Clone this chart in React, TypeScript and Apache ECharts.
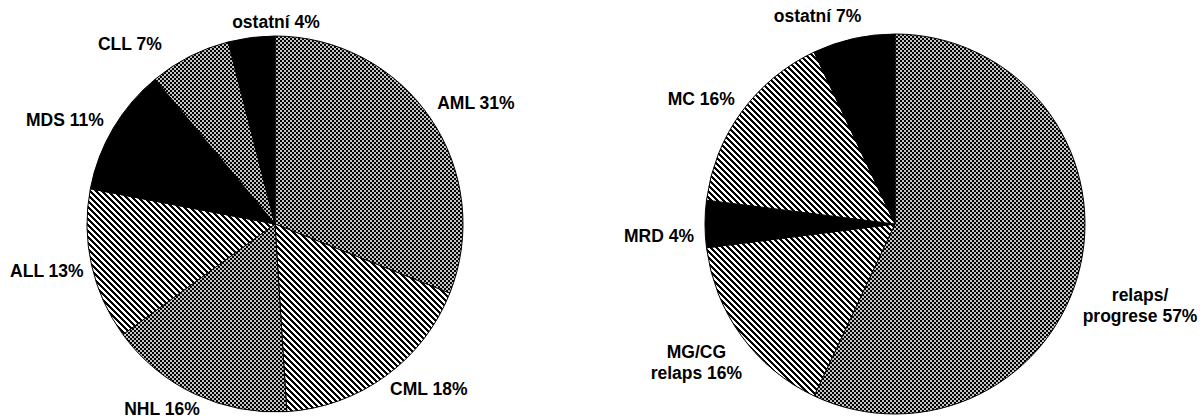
import React, { useEffect, useRef } from 'react';
import * as echarts from 'echarts';

// ---- data ----
const leftCategories = ['AML', 'CML', 'NHL', 'ALL', 'MDS', 'CLL', 'ostatní'];
const leftValues = [31, 18, 16, 13, 11, 7, 4];
const leftFills = ['checker', 'stripe', 'checker', 'stripe', 'black', 'checker', 'black'];

const rightCategories = ['relaps/\nprogrese', 'MG/CG\nrelaps', 'MRD', 'MC', 'ostatní'];
const rightValues = [57, 16, 4, 16, 7];
const rightFills = ['checker', 'stripe', 'black', 'stripe', 'black'];

// small label nudges (Excel-like placement tweaks)
const leftNudge = [[0, 0], [11, -9], [-10, -9], [7, 0], [-1, 5], [-38, 11], [32, 11]];
const rightNudge = [[-12, 32], [5, 5], [5, 12], [0, 2], [-23, 3]];

function makePattern(kind: string): any {
  if (kind === 'black') return '#000';
  const c = document.createElement('canvas');
  const n = kind === 'checker' ? 8 : 6;
  c.width = n;
  c.height = n;
  const ctx = c.getContext('2d')!;
  ctx.fillStyle = kind === 'checker' ? '#c4c4c4' : '#fff';
  ctx.fillRect(0, 0, n, n);
  ctx.fillStyle = '#000';
  for (let x = 0; x < n; x++) {
    for (let y = 0; y < n; y++) {
      let on = false;
      if (kind === 'checker') on = (Math.floor(x / 2) + Math.floor(y / 2)) % 2 === 0;
      else on = (((x - y) % n) + n) % n < 3;
      if (on) ctx.fillRect(x, y, 1, 1);
    }
  }
  return { image: c, repeat: 'repeat', imageWidth: n, imageHeight: n };
}

function makeSeries(
  cats: string[],
  vals: number[],
  fills: string[],
  nudge: number[][],
  cx: number,
  cy: number,
  r: number
): any {
  const total = vals.reduce((a, b) => a + b, 0);
  const mids: number[] = [];
  let acc = 0;
  vals.forEach((v) => {
    mids.push(((acc + v / 2) / total) * Math.PI * 2);
    acc += v;
  });
  const gap = 16;
  return {
    type: 'pie',
    center: [cx, cy],
    radius: r,
    startAngle: 90,
    clockwise: true,
    avoidLabelOverlap: false,
    silent: true,
    data: cats.map((name, i) => ({
      name,
      value: vals[i],
      itemStyle: { color: makePattern(fills[i]) },
    })),
    itemStyle: { borderColor: '#000', borderWidth: 1 },
    label: {
      show: true,
      position: 'outside',
      formatter: (p: any) => `${p.name} ${p.value}%`,
      color: '#000',
      fontFamily: 'Liberation Sans, Arial, sans-serif',
      fontWeight: 'bold',
      fontSize: 17.5,
      lineHeight: 21,
      align: 'center',
    },
    labelLine: { show: false },
    labelLayout: (params: any) => {
      const i = params.dataIndex;
      const a = mids[i];
      const dx = Math.sin(a);
      const dy = -Math.cos(a);
      const w = params.labelRect.width;
      const h = params.labelRect.height;
      const ax = cx + (r + gap) * dx;
      const ay = cy + (r + gap) * dy;
      return {
        x: ax + (dx * w) / 2 + nudge[i][0],
        y: ay + (dy * h) / 2 + nudge[i][1],
        align: 'center',
        verticalAlign: 'middle',
      };
    },
  };
}

export default function App() {
  const ref = useRef<HTMLDivElement>(null);
  useEffect(() => {
    document.body.style.margin = '0';
    const chart = echarts.init(ref.current!, null, { renderer: 'svg' });
    chart.setOption({
      animation: false,
      backgroundColor: '#fff',
      series: [
        makeSeries(leftCategories, leftValues, leftFills, leftNudge, 275, 224, 188),
        makeSeries(rightCategories, rightValues, rightFills, rightNudge, 895, 224, 190),
      ],
    });
    return () => chart.dispose();
  }, []);
  return <div ref={ref} style={{ width: 1203, height: 418 }} />;
}
